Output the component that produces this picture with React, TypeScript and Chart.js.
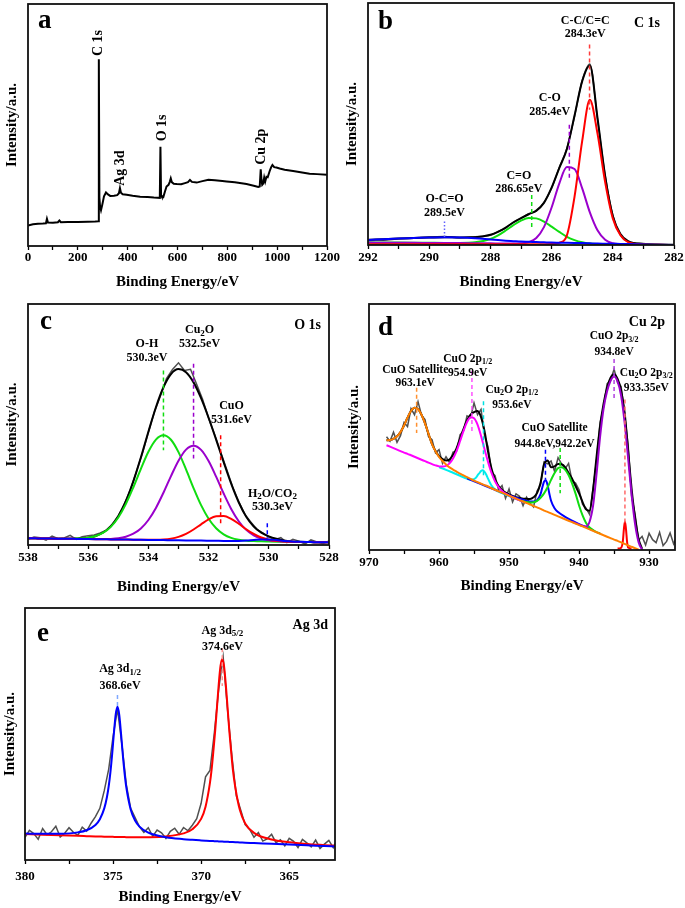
import React, { useEffect, useRef } from "react";
import { Chart, registerables } from "chart.js";
Chart.register(...registerables);

const SERIF = "'Liberation Serif', 'Times New Roman', Times, serif";

// ---------------- Panel a: survey ----------------
const surveyEnergy = [0, 20, 40, 60, 72, 76, 80, 100, 120, 126, 132, 160, 200, 240, 270, 282.5, 284.3, 286.5, 289, 293, 298, 305, 313, 321, 330, 345, 358, 365, 369, 373, 380, 396, 420, 450, 480, 505, 529, 531.5, 534, 537, 543, 550, 556, 564, 569, 573, 577, 585, 597, 615, 630, 642, 650, 658, 677, 700, 724, 750, 780, 797, 830, 877, 910, 924, 930, 934, 937, 940, 944, 948, 952, 957, 962, 970, 976, 981, 988, 997, 1010, 1030, 1064, 1100, 1130, 1160, 1200];
const surveyIntensity = [8.5, 9.0, 9.2, 9.3, 9.4, 11.2, 9.7, 9.6, 9.8, 10.5, 9.8, 9.9, 9.9, 10.0, 10.1, 10.2, 77.2, 20.0, 16.5, 14.8, 17.0, 20.5, 22.1, 21.3, 20.7, 20.8, 21.0, 21.8, 23.9, 22.0, 21.4, 21.2, 20.8, 20.4, 20.2, 20.0, 19.9, 41.0, 21.0, 20.4, 20.2, 22.6, 24.6, 25.3, 26.5, 27.9, 26.4, 25.7, 25.6, 25.5, 26.0, 26.4, 27.3, 26.5, 26.2, 26.8, 27.4, 27.2, 26.9, 26.7, 26.3, 25.6, 24.8, 24.4, 24.6, 31.7, 27.5, 25.3, 25.8, 28.3, 26.6, 28.6, 28.4, 31.0, 32.6, 33.5, 32.6, 32.4, 32.0, 31.5, 31.0, 30.4, 29.9, 29.7, 29.4];
const surveyMajorTicks = [0, 200, 400, 600, 800, 1000, 1200];
const surveyMinorTicks = [100, 300, 500, 700, 900, 1100];
const surveyPeakNames = ["C 1s", "Ag 3d", "O 1s", "Cu 2p"];
const surveyPeakLabelX = [281, 372, 540.6, 938];
const surveyPeakLabelY = [83.9, 32.2, 48.8, 41];

// ---------------- Panel b: C 1s ----------------
const c1sEnergy = [292, 291.5, 291, 290.5, 290, 289.5, 289, 288.5, 288, 287.75, 287.5, 287.25, 287, 286.75, 286.5, 286.25, 286, 285.75, 285.5, 285.25, 285, 284.75, 284.5, 284.25, 284, 283.75, 283.5, 283, 282.5, 282];
const c1sRaw = [2.3, 2.0, 2.6, 2.8, 3.3, 3.5, 3.0, 3.4, 4.0, 5.6, 7.0, 9.5, 11.0, 12.9, 14.0, 17.6, 23.5, 32.0, 40.0, 53.2, 68.0, 74.8, 52.0, 28.8, 12.3, 4.2, 1.4, 0.6, 0.1, 0.0];
const c1sFit = [2.1, 2.4, 2.7, 2.9, 3.1, 3.2, 3.15, 3.2, 4.2, 5.4, 7.2, 9.3, 11.1, 12.7, 14.2, 17.4, 23.7, 31.8, 39.7, 53.5, 67.7, 74.2, 52.5, 28.5, 12, 4.55, 1.6, 0.4, 0.2, 0.1];
const c1sCC = [0.3, 0.3, 0.3, 0.3, 0.3, 0.3, 0.3, 0.3, 0.3, 0.3, 0.3, 0.3, 0.3, 0.3, 0.3, 0.35, 0.4, 0.9, 4, 20, 43, 60, 46, 26, 11, 4, 1.2, 0.2, 0.1, 0];
const c1sCO = [1.0, 0.95, 0.9, 0.88, 0.85, 0.82, 0.8, 0.75, 0.7, 0.65, 0.6, 0.6, 0.7, 1.2, 2.9, 7.4, 15.5, 25.4, 32.2, 31.4, 23.4, 13.5, 6.1, 2.2, 0.7, 0.3, 0.2, 0.1, 0.05, 0];
const c1sCdO = [1.1, 1.05, 1.0, 0.95, 0.9, 0.85, 0.85, 1.1, 2.5, 4.0, 6.0, 8.2, 10.1, 11.2, 11.0, 9.7, 7.6, 5.4, 3.4, 2.0, 1.1, 0.6, 0.4, 0.3, 0.2, 0.2, 0.2, 0.1, 0.05, 0];
const c1sOCO = [2.1, 2.4, 2.7, 2.9, 3.1, 3.2, 3.1, 2.8, 2.3, 2.05, 1.8, 1.6, 1.4, 1.3, 1.2, 1.1, 1.0, 0.95, 0.9, 0.85, 0.8, 0.7, 0.6, 0.55, 0.5, 0.45, 0.4, 0.2, 0.1, 0];
const c1sMajorTicks = [282, 284, 286, 288, 290, 292];
const c1sMinorTicks = [283, 285, 287, 289, 291];
const c1sMarkerPos = [284.76, 285.42, 286.65, 289.5];
const c1sMarkerTop = [82.8, 49.7, 20.7, 9.7];
const c1sMarkerBottom = [55.9, 26.9, 6.2, 3.2];
const c1sLabels = ["C-C/C=C", "284.3eV", "C-O", "285.4eV", "C=O", "286.65eV", "O-C=O", "289.5eV"];
const c1sLabelX = [284.9, 284.9, 286.06, 286.06, 287.07, 287.07, 289.5, 289.5];
const c1sLabelY = [92.8, 87.2, 60.7, 55.2, 28.7, 23.0, 18.9, 13.4];

// ---------------- Panel c: O 1s ----------------
const o1sEnergy = [538, 537.75, 537.5, 537.25, 537, 536.75, 536.5, 536.25, 536, 535.75, 535.5, 535.25, 535, 534.75, 534.5, 534.25, 534, 533.75, 533.5, 533.25, 533, 532.75, 532.5, 532.25, 532, 531.75, 531.5, 531.25, 531, 530.75, 530.5, 530.25, 530, 529.75, 529.5, 529.25, 529, 528.75, 528.5, 528.25, 528];
const o1sFit = [2.8, 2.76, 2.72, 2.67, 2.64, 2.62, 2.64, 2.73, 3.04, 3.75, 5.18, 7.75, 11.95, 18.15, 26.42, 36.32, 46.99, 57.14, 65.45, 70.92, 72.99, 71.71, 67.48, 60.95, 52.81, 43.72, 34.37, 25.45, 17.75, 11.76, 7.7, 5.16, 3.61, 2.57, 1.89, 1.49, 1.32, 1.23, 1.19, 1.14, 1.1];
const o1sOH = [2.8, 2.76, 2.72, 2.67, 2.64, 2.62, 2.64, 2.73, 3.03, 3.72, 5.1, 7.54, 11.43, 16.97, 23.96, 31.61, 38.7, 43.75, 45.54, 43.66, 38.53, 31.36, 23.62, 16.54, 10.92, 6.95, 4.42, 2.95, 2.18, 1.8, 1.62, 1.51, 1.45, 1.4, 1.36, 1.31, 1.27, 1.23, 1.19, 1.14, 1.1];
const o1sCu2O = [2.8, 2.76, 2.72, 2.67, 2.63, 2.59, 2.55, 2.5, 2.47, 2.45, 2.46, 2.54, 2.81, 3.43, 4.67, 6.86, 10.38, 15.38, 21.69, 28.6, 35.0, 39.56, 41.17, 39.47, 34.83, 28.35, 21.35, 14.95, 9.87, 6.27, 3.99, 2.66, 1.96, 1.61, 1.44, 1.34, 1.28, 1.23, 1.19, 1.14, 1.1];
const o1sCuO = [2.8, 2.76, 2.72, 2.67, 2.63, 2.59, 2.55, 2.5, 2.46, 2.42, 2.38, 2.33, 2.29, 2.25, 2.21, 2.17, 2.15, 2.17, 2.3, 2.64, 3.36, 4.61, 6.43, 8.58, 10.62, 11.9, 12.0, 10.83, 8.82, 6.55, 4.57, 3.1, 2.21, 1.72, 1.48, 1.35, 1.28, 1.23, 1.19, 1.14, 1.1];
const o1sH2O = [2.8, 2.76, 2.72, 2.67, 2.63, 2.59, 2.55, 2.5, 2.46, 2.42, 2.38, 2.33, 2.29, 2.25, 2.21, 2.16, 2.12, 2.08, 2.04, 1.99, 1.95, 1.91, 1.87, 1.82, 1.78, 1.74, 1.7, 1.67, 1.71, 1.85, 2.11, 2.33, 2.31, 2.04, 1.69, 1.43, 1.3, 1.23, 1.19, 1.14, 1.1];
const o1sRawEnergy = [538, 537.8, 537.6, 537.4, 537.2, 537, 536.8, 536.6, 536.4, 536.2, 536, 535.8, 535.6, 535.4, 535.2, 535, 534.8, 534.6, 534.4, 534.2, 534, 533.8, 533.6, 533.4, 533.2, 533, 532.8, 532.6, 532.4, 532.2, 532, 531.8, 531.6, 531.4, 531.2, 531, 530.8, 530.6, 530.4, 530.2, 530, 529.8, 529.6, 529.4, 529.2, 529, 528.8, 528.6, 528.4, 528.2, 528];
const o1sRaw = [2.4, 3.3, 3.0, 2.0, 3.7, 2.6, 2.9, 4.0, 2.3, 3.4, 3.8, 4.2, 5.0, 6.2, 8.6, 12.2, 16.9, 23.0, 30.4, 38.0, 46.8, 55.2, 61.9, 69.0, 72.8, 75.6, 72.4, 72.9, 66.8, 60.5, 52.6, 45.9, 38.6, 31.4, 24.1, 18.0, 12.8, 9.6, 6.5, 5.0, 3.3, 2.2, 3.1, 1.0, 2.4, 1.6, 0.4, 2.1, 1.3, 0.5, 1.7];
const o1sMajorTicks = [528, 530, 532, 534, 536, 538];
const o1sMinorTicks = [529, 531, 533, 535, 537];
const o1sMarkerPos = [533.5, 532.5, 531.6, 530.05];
const o1sMarkerTop = [72.4, 75.2, 45.5, 9.0];
const o1sMarkerBottom = [39.3, 35.9, 8.3, 2.8];
const o1sLabels = ["O-H", "530.3eV", "Cu_{2}O", "532.5eV", "CuO", "531.6eV", "H_{2}O/CO_{2}", "530.3eV"];
const o1sLabelX = [534.05, 534.05, 532.3, 532.3, 531.24, 531.24, 529.88, 529.88];
const o1sLabelY = [83.4, 77.7, 89.2, 83.4, 57.9, 52.1, 21.4, 15.6];

// ---------------- Panel d: Cu 2p ----------------
const cuRawEnergy = [967.5, 967, 966.5, 966, 965.5, 965, 964.5, 964, 963.5, 963, 962.5, 962, 961.5, 961, 960.5, 960, 959.5, 959, 958.5, 958, 957.5, 957, 956.5, 956, 955.5, 955, 954.5, 954, 953.5, 953, 952.5, 952, 951.5, 951, 950.5, 950, 949.5, 949, 948.5, 948, 947.5, 947, 946.5, 946, 945.5, 945, 944.5, 944, 943.5, 943, 942.5, 942, 941.5, 941, 940.5, 940, 939.5, 939, 938.5, 938, 937.5, 937, 936.5, 936, 935.5, 935, 934.5, 934, 933.5, 933, 932.5, 932, 931.5, 931, 930.5, 930, 929.5, 929, 928.5, 928, 927.5, 927, 926.5, 926];
const cuRaw = [46.0, 44.2, 47.9, 43.8, 46.5, 51.8, 50.2, 57.5, 55.0, 60.3, 54.8, 53.0, 46.1, 44.9, 39.5, 40.8, 35.2, 37.9, 35.6, 39.8, 40.2, 46.8, 48.5, 54.5, 53.8, 59.8, 55.0, 57.2, 46.5, 42.0, 31.8, 30.2, 24.5, 26.2, 21.0, 24.8, 19.5, 22.8, 21.9, 18.0, 21.5, 19.0, 17.5, 24.0, 26.5, 35.8, 35.0, 36.2, 32.0, 37.5, 35.0, 33.0, 35.2, 28.0, 27.2, 24.5, 18.5, 17.0, 14.5, 25.0, 36.5, 52.0, 58.0, 67.5, 69.0, 73.5, 68.0, 66.5, 55.0, 43.0, 22.0, 14.5, 4.0, 5.5, 2.0, 6.8, 4.2, 3.0, 7.2, 1.8, 3.5, 6.9, 2.5, 5.8];
const cuFitEnergy = cuRawEnergy.slice(0, 74);
const cuFit = [44.6, 44.7, 45.2, 46.2, 47.9, 50.6, 53.8, 56.5, 57.8, 57.3, 55.0, 51.5, 47.2, 43.0, 40.2, 38.1, 36.95, 36.4, 36.8, 38.6, 41.35, 45.15, 49.2, 52.7, 55.0, 56.0, 56.5, 54.0, 48.3, 40.0, 33.0, 28.6, 26.0, 24.4, 23.35, 22.6, 22.0, 21.5, 21.2, 20.85, 20.8, 20.7, 21.4, 23.1, 27.35, 34.8, 36.4, 33.6, 34.0, 35.0, 34.85, 33.7, 31.3, 29.0, 26.0, 23.0, 19.5, 16.5, 16.0, 24.5, 38.0, 50.3, 59.5, 66.0, 70.0, 71.4, 69.5, 65.0, 56.0, 40.5, 25.0, 13.0, 4.5, 0.5];
const cuSat963Energy = cuRawEnergy.slice(0, 73);
const cuSat963 = [44.6, 44.7, 45.2, 46.2, 47.9, 50.6, 53.8, 56.5, 57.8, 57.3, 55.0, 51.5, 47.2, 43.0, 40.1, 37.8, 36.2, 34.8, 33.6, 32.7, 31.9, 31.0, 30.3, 29.6, 28.9, 28.2, 27.6, 27.0, 26.4, 25.8, 25.1, 24.5, 23.9, 23.3, 22.7, 22.1, 21.5, 20.9, 20.3, 19.7, 19.1, 18.5, 17.9, 17.3, 16.7, 16.0, 15.5, 14.9, 14.3, 13.7, 13.1, 12.5, 11.9, 11.3, 10.7, 10.1, 9.6, 9.0, 8.4, 7.8, 7.2, 6.6, 6.0, 5.4, 4.8, 4.2, 3.7, 3.1, 2.5, 1.9, 1.3, 0.7, 0.1];
const cuO2p12Energy = cuRawEnergy.slice(0, 40);
const cuO2p12 = [42.6, 42.0, 41.4, 40.8, 40.2, 39.6, 39.1, 38.5, 37.9, 37.3, 36.7, 36.1, 35.5, 34.9, 34.4, 34.0, 33.9, 34.2, 35.2, 37.2, 40.2, 44.2, 48.4, 52.0, 54.0, 53.6, 51.0, 46.4, 41.0, 35.8, 31.3, 27.9, 25.6, 24.0, 22.9, 22.1, 21.45, 20.8, 20.2, 19.6];
const cu2O2p12Energy = [960, 959, 958, 957, 956, 955.5, 955, 954.75, 954.5, 954.25, 954, 953.75, 953.5, 953.25, 953, 952.75, 952.5, 952, 951.5, 951, 950, 949, 948];
const cu2O2p12 = [33.7, 32.6, 31.4, 30.2, 29.0, 28.6, 28.8, 29.3, 30.3, 31.2, 32.1, 32.4, 31.8, 30.6, 29.0, 27.5, 26.2, 24.6, 23.7, 23.1, 21.9, 20.8, 19.6];
const cuSat945Energy = [956, 954, 952, 950, 948, 947, 946.5, 946, 945.5, 945.25, 945, 944.75, 944.5, 944.25, 944, 943.5, 943, 942, 941, 940, 939, 938];
const cuSat945 = [29.1, 26.8, 24.5, 22.3, 20.4, 19.7, 19.7, 20.2, 22.7, 25.4, 27.8, 28.4, 26.4, 23.0, 20.0, 17.0, 15.4, 13.5, 11.95, 10.55, 9.3, 8.0];
const cuSat942Energy = [948, 947.5, 947, 946.5, 946, 945.5, 945, 944.5, 944, 943.5, 943, 942.5, 942, 941.5, 941, 940.5, 940, 939.5, 939, 938.5, 938, 937.5, 937];
const cuSat942 = [19.9, 19.5, 19.3, 19.4, 20.0, 21.2, 23.0, 25.5, 28.5, 31.3, 33.3, 33.6, 32.7, 30.5, 27.1, 22.9, 18.1, 14.1, 11.0, 9.2, 8.1, 7.3, 6.7];
const cuO2p32Energy = [941, 940.5, 940, 939.5, 939, 938.5, 938, 937.5, 937, 936.5, 936, 935.5, 935, 934.5, 934, 933.5, 933, 932.5, 932, 931.5, 931, 930.5];
const cuO2p32 = [11.5, 10.9, 10.3, 9.8, 9.6, 11.5, 18.0, 31.0, 46.0, 57.5, 64.5, 68.8, 70.5, 68.5, 62.8, 52.0, 37.5, 22.5, 10.5, 3.2, 0.2, -1.5];
const cu2O2p32Energy = [934.5, 934, 933.75, 933.6, 933.45, 933.3, 933.15, 933, 932.5];
const cu2O2p32 = [0.6, 0.9, 3.5, 8.5, 11.6, 8.5, 3.5, 1.0, 0.6];
const cuMajorTicks = [930, 940, 950, 960, 970];
const cuMinorTicks = [935, 945, 955, 965];
const cuMarkerPos = [963.2, 955.3, 953.65, 944.8, 942.7, 935.0, 933.45];
const cuMarkerTop = [66, 72.8, 60.5, 40.8, 41.5, 77.6, 61.2];
const cuMarkerBottom = [47.6, 47.6, 29.9, 28.6, 23.1, 61.2, 10.9];
const cuLabels = ["CuO Satellite", "963.1eV", "CuO 2p_{1/2}", "954.9eV", "Cu_{2}O 2p_{1/2}", "953.6eV", "CuO Satellite", "944.8eV,942.2eV", "CuO 2p_{3/2}", "934.8eV", "Cu_{2}O 2p_{3/2}", "933.35eV"];
const cuLabelX = [963.4, 963.4, 955.9, 955.9, 949.6, 949.6, 943.5, 943.5, 935.0, 935.0, 930.4, 930.4];
const cuLabelY = [73.2, 68.0, 77.6, 71.8, 65.0, 58.8, 49.7, 43.1, 86.8, 80.3, 72.1, 66.0];

// ---------------- Panel e: Ag 3d ----------------
const agEnergy = [380, 379, 378, 377, 376.5, 376, 375.75, 375.5, 375.35, 375.25, 375.15, 375.05, 374.95, 374.85, 374.75, 374.65, 374.55, 374.45, 374.35, 374.25, 374, 373.75, 373.5, 373, 372, 371, 370.5, 370, 369.75, 369.5, 369.4, 369.3, 369.2, 369.1, 369, 368.9, 368.8, 368.7, 368.6, 368.5, 368.4, 368.3, 368.2, 368.05, 367.8, 367.5, 367, 366, 365, 364, 363, 362.4];
const ag3d32 = [10.49, 10.37, 10.42, 10.96, 11.81, 13.92, 16.2, 20.48, 24.9, 29.17, 34.89, 42.12, 50.49, 57.76, 60.83, 57.7, 50.38, 41.95, 34.67, 28.89, 20.06, 15.65, 13.23, 10.84, 9.05, 8.27, 8.01, 7.78, 7.67, 7.57, 7.54, 7.5, 7.46, 7.43, 7.38, 7.35, 7.31, 7.28, 7.25, 7.21, 7.17, 7.14, 7.1, 7.05, 6.97, 6.87, 6.72, 6.41, 6.11, 5.81, 5.53, 5.35];
const ag3d52 = [10.31, 10.05, 9.81, 9.58, 9.47, 9.36, 9.31, 9.26, 9.24, 9.22, 9.2, 9.19, 9.17, 9.15, 9.13, 9.12, 9.11, 9.1, 9.08, 9.07, 9.05, 9.05, 9.04, 9.06, 9.36, 10.55, 12.18, 16.31, 21.14, 30.57, 36.25, 43.57, 51.49, 60.66, 69.83, 77.01, 79.78, 76.95, 69.72, 60.5, 51.27, 43.29, 35.91, 28.37, 19.8, 14.52, 10.78, 8.1, 7.02, 6.36, 5.9, 5.65];
const agRawEnergy = [380, 379.75, 379.5, 379.25, 379, 378.75, 378.5, 378.25, 378, 377.75, 377.5, 377.25, 377, 376.75, 376.5, 376.25, 376, 375.75, 375.5, 375.25, 375, 374.75, 374.5, 374.25, 374, 373.75, 373.5, 373.25, 373, 372.75, 372.5, 372.25, 372, 371.75, 371.5, 371.25, 371, 370.75, 370.5, 370.25, 370, 369.75, 369.5, 369.25, 369, 368.75, 368.5, 368.25, 368, 367.75, 367.5, 367.25, 367, 366.75, 366.5, 366.25, 366, 365.75, 365.5, 365.25, 365, 364.75, 364.5, 364.25, 364, 363.75, 363.5, 363.25, 363, 362.75, 362.5, 362.4];
const agRaw = [9.0, 11.8, 10.5, 8.2, 12.5, 10.0, 11.2, 13.4, 9.1, 10.6, 12.8, 11.0, 9.8, 13.0, 11.5, 14.6, 17.2, 20.5, 27.5, 36.0, 49.0, 60.0, 46.0, 30.0, 20.5, 16.8, 13.2, 11.0, 12.8, 9.4, 11.9, 10.8, 8.6, 11.4, 12.6, 10.2, 12.9, 11.6, 13.8, 16.4, 22.5, 33.0, 35.5, 50.5, 68.0, 80.5, 59.5, 41.0, 25.5, 19.8, 14.0, 12.2, 9.0, 10.9, 7.5, 8.4, 10.2, 6.9, 8.0, 5.6, 8.6, 7.4, 4.9, 8.2, 6.8, 5.2, 7.9, 4.6, 6.3, 7.8, 4.9, 6.5];
const agMajorTicks = [365, 370, 375, 380];
const agMinorTicks = [367.5, 372.5, 377.5];
const agMarkerPos = [374.75, 368.8];
const agMarkerTop = [65.5, 84];
const agMarkerBottom = [60.5, 69];
const agLabels = ["Ag 3d_{1/2}", "368.6eV", "Ag 3d_{5/2}", "374.6eV"];
const agLabelX = [374.6, 374.6, 368.79, 368.79];
const agLabelY = [75.8, 68.9, 91.1, 84.4];

// ---------------- styling / layout ----------------
type Curve = { x: number[]; y: number[]; color: string; width: number; smooth: boolean };
type Marker = { x: number; y1: number; y2: number; color: string; dash: number[] };
type Note = { x: number; y: number; text: string; rotate?: boolean };
interface PanelSpec {
  id: string; left: number; top: number; width: number; height: number;
  area: { left: number; top: number; right: number; bottom: number };
  xMin: number; xMax: number; reverse: boolean;
  major: number[]; minor: number[];
  tickPad: number; xTitlePad: number; yTitlePad: number;
  letter: string; letterDx: number; letterDy: number;
  title?: string; titleDx?: number; titleDy?: number;
  curves: Curve[]; markers: Marker[]; notes: Note[]; noteSize: number;
}

const GRAY = "#505050", BLACK = "#000000", RED = "#ff0000", PURPLE = "#9a00cc",
  GREEN = "#10dd10", BLUE = "#0000ff", MAGENTA = "#ff00ff", CYAN = "#00eeee", ORANGE = "#ff8000";

const mkMarkers = (pos: number[], top: number[], bot: number[], colors: string[], dashes: number[][]): Marker[] =>
  pos.map((p, i) => ({ x: p, y1: top[i], y2: bot[i], color: colors[i], dash: dashes[i] }));
const mkNotes = (texts: string[], xs: number[], ys: number[], rotate = false): Note[] =>
  texts.map((t, i) => ({ text: t, x: xs[i], y: ys[i], rotate }));

const DASH = [4, 3];

const PANELS: PanelSpec[] = [
  {
    id: "a", left: 0, top: 0, width: 340, height: 300,
    area: { left: 28, top: 4, right: 327, bottom: 246 },
    xMin: 0, xMax: 1200, reverse: false, major: surveyMajorTicks, minor: surveyMinorTicks,
    tickPad: 0, xTitlePad: 9, yTitlePad: 3,
    letter: "a", letterDx: 10, letterDy: 24,
    curves: [{ x: surveyEnergy, y: surveyIntensity, color: BLACK, width: 2, smooth: false }],
    markers: [], notes: mkNotes(surveyPeakNames, surveyPeakLabelX, surveyPeakLabelY, true), noteSize: 14,
  },
  {
    id: "b", left: 340, top: 0, width: 345, height: 300,
    area: { left: 28, top: 3, right: 334, bottom: 245 },
    xMin: 282, xMax: 292, reverse: true, major: c1sMajorTicks, minor: c1sMinorTicks,
    tickPad: 1, xTitlePad: 9, yTitlePad: 3,
    letter: "b", letterDx: 10, letterDy: 26, title: "C 1s", titleDx: 14, titleDy: 20,
    curves: [
      { x: c1sEnergy, y: c1sRaw, color: GRAY, width: 1.5, smooth: true },
      { x: c1sEnergy, y: c1sFit, color: BLACK, width: 2, smooth: true },
      { x: c1sEnergy, y: c1sCdO, color: GREEN, width: 2, smooth: true },
      { x: c1sEnergy, y: c1sCO, color: PURPLE, width: 2, smooth: true },
      { x: c1sEnergy, y: c1sCC, color: RED, width: 2, smooth: true },
      { x: c1sEnergy, y: c1sOCO, color: BLUE, width: 2, smooth: true },
    ],
    markers: mkMarkers(c1sMarkerPos, c1sMarkerTop, c1sMarkerBottom, ["#ff3a3a", PURPLE, GREEN, "#6060ff"], [DASH, DASH, DASH, [1.5, 2]]),
    notes: mkNotes(c1sLabels, c1sLabelX, c1sLabelY), noteSize: 12,
  },
  {
    id: "c", left: 0, top: 300, width: 340, height: 300,
    area: { left: 28, top: 4, right: 329, bottom: 245 },
    xMin: 528, xMax: 538, reverse: true, major: o1sMajorTicks, minor: o1sMinorTicks,
    tickPad: 1, xTitlePad: 4, yTitlePad: 3,
    letter: "c", letterDx: 12, letterDy: 25, title: "O 1s", titleDx: 8, titleDy: 21,
    curves: [
      { x: o1sRawEnergy, y: o1sRaw, color: GRAY, width: 1.5, smooth: false },
      { x: o1sEnergy, y: o1sFit, color: BLACK, width: 2, smooth: true },
      { x: o1sEnergy, y: o1sOH, color: GREEN, width: 2, smooth: true },
      { x: o1sEnergy, y: o1sCu2O, color: PURPLE, width: 2, smooth: true },
      { x: o1sEnergy, y: o1sCuO, color: RED, width: 2, smooth: true },
      { x: o1sEnergy, y: o1sH2O, color: BLUE, width: 2, smooth: true },
    ],
    markers: mkMarkers(o1sMarkerPos, o1sMarkerTop, o1sMarkerBottom, [GREEN, PURPLE, RED, BLUE], [DASH, DASH, DASH, DASH]),
    notes: mkNotes(o1sLabels, o1sLabelX, o1sLabelY), noteSize: 12,
  },
  {
    id: "d", left: 340, top: 300, width: 345, height: 300,
    area: { left: 29, top: 4, right: 335, bottom: 250 },
    xMin: 926.3, xMax: 970, reverse: true, major: cuMajorTicks, minor: cuMinorTicks,
    tickPad: 1, xTitlePad: 5, yTitlePad: 5,
    letter: "d", letterDx: 9, letterDy: 31, title: "Cu 2p", titleDx: 10, titleDy: 18,
    curves: [
      { x: cuRawEnergy, y: cuRaw, color: GRAY, width: 1.5, smooth: false },
      { x: cuFitEnergy, y: cuFit, color: BLACK, width: 2, smooth: true },
      { x: cu2O2p12Energy, y: cu2O2p12, color: CYAN, width: 2, smooth: true },
      { x: cuSat945Energy, y: cuSat945, color: BLUE, width: 2, smooth: true },
      { x: cuSat942Energy, y: cuSat942, color: GREEN, width: 2, smooth: true },
      { x: cuO2p12Energy, y: cuO2p12, color: MAGENTA, width: 2, smooth: true },
      { x: cu2O2p32Energy, y: cu2O2p32, color: RED, width: 2, smooth: true },
      { x: cuO2p32Energy, y: cuO2p32, color: PURPLE, width: 2, smooth: true },
      { x: cuSat963Energy, y: cuSat963, color: ORANGE, width: 2, smooth: true },
    ],
    markers: mkMarkers(cuMarkerPos, cuMarkerTop, cuMarkerBottom, ["#ff9030", "#ff50ff", "#00e0e0", BLUE, GREEN, "#b040e0", "#ff6a6a"], [DASH, DASH, DASH, DASH, DASH, DASH, DASH]),
    notes: mkNotes(cuLabels, cuLabelX, cuLabelY), noteSize: 11.5,
  },
  {
    id: "e", left: 0, top: 600, width: 340, height: 308,
    area: { left: 25, top: 8, right: 335, bottom: 260 },
    xMin: 362.4, xMax: 380, reverse: true, major: agMajorTicks, minor: agMinorTicks,
    tickPad: 5, xTitlePad: 2, yTitlePad: 1,
    letter: "e", letterDx: 12, letterDy: 33, title: "Ag 3d", titleDx: 7, titleDy: 17,
    curves: [
      { x: agRawEnergy, y: agRaw, color: GRAY, width: 1.5, smooth: false },
      { x: agEnergy, y: ag3d52, color: RED, width: 2, smooth: true },
      { x: agEnergy, y: ag3d32, color: BLUE, width: 2, smooth: true },
    ],
    markers: mkMarkers(agMarkerPos, agMarkerTop, agMarkerBottom, ["#7fa8ff", "#ff9090"], [DASH, DASH]),
    notes: mkNotes(agLabels, agLabelX, agLabelY), noteSize: 12,
  },
];

function parseRich(s: string) {
  const out: { t: string; sub: boolean }[] = [];
  const re = /_\{([^}]*)\}/g;
  let last = 0; let m: RegExpExecArray | null;
  while ((m = re.exec(s))) {
    if (m.index > last) out.push({ t: s.slice(last, m.index), sub: false });
    out.push({ t: m[1], sub: true });
    last = re.lastIndex;
  }
  if (last < s.length) out.push({ t: s.slice(last), sub: false });
  return out;
}

function drawRich(ctx: CanvasRenderingContext2D, s: string, x: number, y: number, size: number) {
  const segs = parseRich(s);
  const main = `bold ${size}px ${SERIF}`;
  const sub = `bold ${Math.round(size * 0.72)}px ${SERIF}`;
  let w = 0;
  segs.forEach((g) => { ctx.font = g.sub ? sub : main; w += ctx.measureText(g.t).width; });
  let cx = x - w / 2;
  ctx.textAlign = "left";
  ctx.textBaseline = "middle";
  segs.forEach((g) => {
    ctx.font = g.sub ? sub : main;
    ctx.fillText(g.t, cx, g.sub ? y + size * 0.28 : y);
    cx += ctx.measureText(g.t).width;
  });
}

function Panel({ spec }: { spec: PanelSpec }) {
  const ref = useRef<HTMLCanvasElement>(null);
  useEffect(() => {
    const canvas = ref.current;
    if (!canvas) return;
    const ticks = [...spec.major, ...spec.minor].sort((a, b) => a - b);
    const n = spec.curves.length + spec.markers.length;
    const datasets: any[] = [];
    spec.curves.forEach((c, i) => {
      datasets.push({
        data: c.x.map((xv, k) => ({ x: xv, y: c.y[k] })),
        borderColor: c.color, borderWidth: c.width, pointRadius: 0, fill: false,
        tension: 0, cubicInterpolationMode: c.smooth ? "monotone" : "default",
        order: n - i, clip: 0,
      });
    });
    spec.markers.forEach((m, j) => {
      datasets.push({
        data: [{ x: m.x, y: m.y1 }, { x: m.x, y: m.y2 }],
        borderColor: m.color, borderWidth: 1.5, borderDash: m.dash, pointRadius: 0, fill: false,
        order: n - spec.curves.length - j, clip: 0,
      });
    });
    const overlay = {
      id: "overlay" + spec.id,
      afterDraw(chart: any) {
        const { ctx, chartArea: a, scales } = chart;
        ctx.save();
        ctx.strokeStyle = "#111";
        ctx.lineWidth = 1.8;
        ctx.strokeRect(a.left, a.top, a.right - a.left, a.bottom - a.top);
        ctx.fillStyle = "#000";
        ctx.font = `bold 27px ${SERIF}`;
        ctx.textAlign = "left";
        ctx.textBaseline = "alphabetic";
        ctx.fillText(spec.letter, a.left + spec.letterDx, a.top + spec.letterDy);
        if (spec.title) {
          ctx.font = `bold 14px ${SERIF}`;
          ctx.textAlign = "right";
          ctx.textBaseline = "middle";
          ctx.fillText(spec.title, a.right - (spec.titleDx || 0), a.top + (spec.titleDy || 0));
        }
        spec.notes.forEach((nt) => {
          const px = scales.x.getPixelForValue(nt.x);
          const py = scales.y.getPixelForValue(nt.y);
          if (nt.rotate) {
            ctx.save();
            ctx.translate(px, py);
            ctx.rotate(-Math.PI / 2);
            drawRich(ctx, nt.text, 0, 0, spec.noteSize);
            ctx.restore();
          } else {
            drawRich(ctx, nt.text, px, py, spec.noteSize);
          }
        });
        ctx.restore();
      },
    };
    const axisFont = { family: SERIF, size: 15, weight: "bold" as const };
    const chart = new Chart(canvas, {
      type: "line",
      data: { datasets },
      options: {
        animation: false, responsive: false, maintainAspectRatio: false, events: [],
        layout: { padding: { left: 0, top: spec.area.top, right: spec.width - spec.area.right, bottom: 0 } },
        plugins: { legend: { display: false }, tooltip: { enabled: false } },
        scales: {
          x: {
            type: "linear", min: spec.xMin, max: spec.xMax, reverse: spec.reverse,
            afterFit: (s: any) => { s.height = spec.height - spec.area.bottom; },
            afterBuildTicks: (s: any) => { s.ticks = ticks.map((v) => ({ value: v })); },
            ticks: {
              autoSkip: false, maxRotation: 0, minRotation: 0, padding: spec.tickPad, color: "#000",
              font: { family: SERIF, size: 13, weight: "bold" },
              callback: (v: any) => (spec.major.includes(Number(v)) ? String(v) : ""),
            },
            grid: { drawOnChartArea: false, drawTicks: true, tickLength: 4, color: "#000", tickColor: "#000", tickWidth: 1.3 },
            border: { display: false },
            title: { display: true, text: "Binding Energy/eV", color: "#000", font: axisFont, padding: { top: 0, bottom: spec.xTitlePad } },
          },
          y: {
            type: "linear", min: 0, max: 100,
            afterFit: (s: any) => { s.width = spec.area.left; },
            ticks: { display: false },
            grid: { display: false },
            border: { display: false },
            title: { display: true, text: "Intensity/a.u.", color: "#000", font: axisFont, padding: { top: spec.yTitlePad, bottom: 0 } },
          },
        },
      } as any,
      plugins: [overlay],
    });
    return () => chart.destroy();
  }, [spec]);
  return (
    <canvas
      ref={ref}
      width={spec.width}
      height={spec.height}
      style={{ position: "absolute", left: spec.left, top: spec.top, width: spec.width, height: spec.height }}
    />
  );
}

export default function App() {
  return (
    <div style={{ position: "fixed", left: 0, top: 0, width: 685, height: 908, background: "#fff", overflow: "hidden" }}>
      {PANELS.map((p) => (
        <Panel key={p.id} spec={p} />
      ))}
    </div>
  );
}
